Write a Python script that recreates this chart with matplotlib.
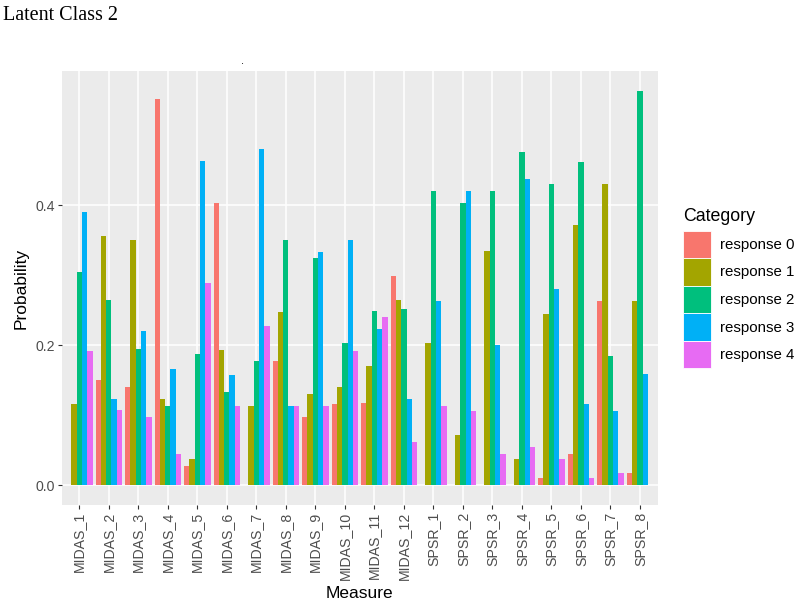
import matplotlib
matplotlib.use("Agg")
import matplotlib.pyplot as plt
import numpy as np

# Measures and response probabilities
measures = ["MIDAS_1", "MIDAS_2", "MIDAS_3", "MIDAS_4", "MIDAS_5", "MIDAS_6",
            "MIDAS_7", "MIDAS_8", "MIDAS_9", "MIDAS_10", "MIDAS_11", "MIDAS_12",
            "SPSR_1", "SPSR_2", "SPSR_3", "SPSR_4", "SPSR_5", "SPSR_6",
            "SPSR_7", "SPSR_8"]
categories = ["response 0", "response 1", "response 2", "response 3", "response 4"]

response_0 = [0.0, 0.150, 0.140, 0.552, 0.028, 0.403, 0.0, 0.177, 0.097, 0.116,
              0.118, 0.299, 0.0, 0.0, 0.0, 0.0, 0.010, 0.045, 0.263, 0.018]
response_1 = [0.116, 0.357, 0.351, 0.124, 0.037, 0.193, 0.114, 0.248, 0.131, 0.140,
              0.171, 0.265, 0.204, 0.072, 0.335, 0.037, 0.245, 0.372, 0.430, 0.263]
response_2 = [0.305, 0.265, 0.195, 0.114, 0.187, 0.133, 0.178, 0.351, 0.325, 0.204,
              0.249, 0.252, 0.420, 0.403, 0.420, 0.476, 0.430, 0.462, 0.185, 0.564]
response_3 = [0.391, 0.124, 0.220, 0.166, 0.464, 0.158, 0.481, 0.114, 0.334, 0.351,
              0.223, 0.123, 0.263, 0.420, 0.200, 0.438, 0.280, 0.116, 0.106, 0.159]
response_4 = [0.192, 0.107, 0.097, 0.045, 0.289, 0.114, 0.228, 0.114, 0.114, 0.192,
              0.240, 0.062, 0.114, 0.106, 0.045, 0.054, 0.037, 0.010, 0.018, 0.0]

series = [response_0, response_1, response_2, response_3, response_4]
colors = ["#F8766D", "#A3A500", "#00BF7D", "#00B0F6", "#E76BF3"]

plt.rcParams["font.family"] = "Liberation Sans"

fig = plt.figure(figsize=(8, 6.08), dpi=100)
ax = fig.add_axes([61.6 / 800, 103 / 608, 596 / 800, 434 / 608])
ax.set_facecolor("#EBEBEB")

x = np.arange(1, len(measures) + 1)
w = 0.9 / len(series)
for k, (vals, col, lab) in enumerate(zip(series, colors, categories)):
    ax.bar(x - 0.45 + w * (k + 0.5), vals, width=w, color=col, label=lab,
           linewidth=0, zorder=3)

ymax = max(max(s) for s in series)
ax.set_ylim(-0.05 * ymax, 1.05 * ymax)
ax.set_xlim(0.4, len(measures) + 0.6)
ax.set_yticks([0.0, 0.2, 0.4])
ax.set_yticklabels(["0.0", "0.2", "0.4"])
ax.set_xticks(x)
ax.set_xticklabels(measures, rotation=90)

ax.grid(True, color="white", linewidth=1.1, zorder=0)
ax.set_axisbelow(True)
for s in ax.spines.values():
    s.set_visible(False)
ax.tick_params(colors="#333333", length=3, width=0.8, labelcolor="#4D4D4D",
               labelsize=10.2, pad=2)

ax.set_xlabel("Measure", fontsize=12.5, labelpad=4)
ax.set_ylabel("Probability", fontsize=12.5, labelpad=5)

leg = ax.legend(title="Category", loc="upper left",
                bbox_to_anchor=(683 / 800, 1 - 208 / 608),
                bbox_transform=fig.transFigure, frameon=False,
                title_fontsize=12.8, prop={"size": 10.8},
                handlelength=1.85, handleheight=2.45, labelspacing=0.0,
                handletextpad=0.6, borderpad=0, borderaxespad=0)
leg._legend_box.align = "left"
leg._legend_box.sep = 4
for h in leg.legend_handles:
    h.set_edgecolor("white")
    h.set_linewidth(0.6)

fig.text(3 / 800, 1 - 20 / 608, "Latent Class 2", fontsize=14.5,
         fontfamily="Liberation Serif", va="baseline", ha="left")
fig.text(242 / 800, 1 - 64 / 608, ".", fontsize=8, ha="center")

fig.savefig("out.png", dpi=100)
